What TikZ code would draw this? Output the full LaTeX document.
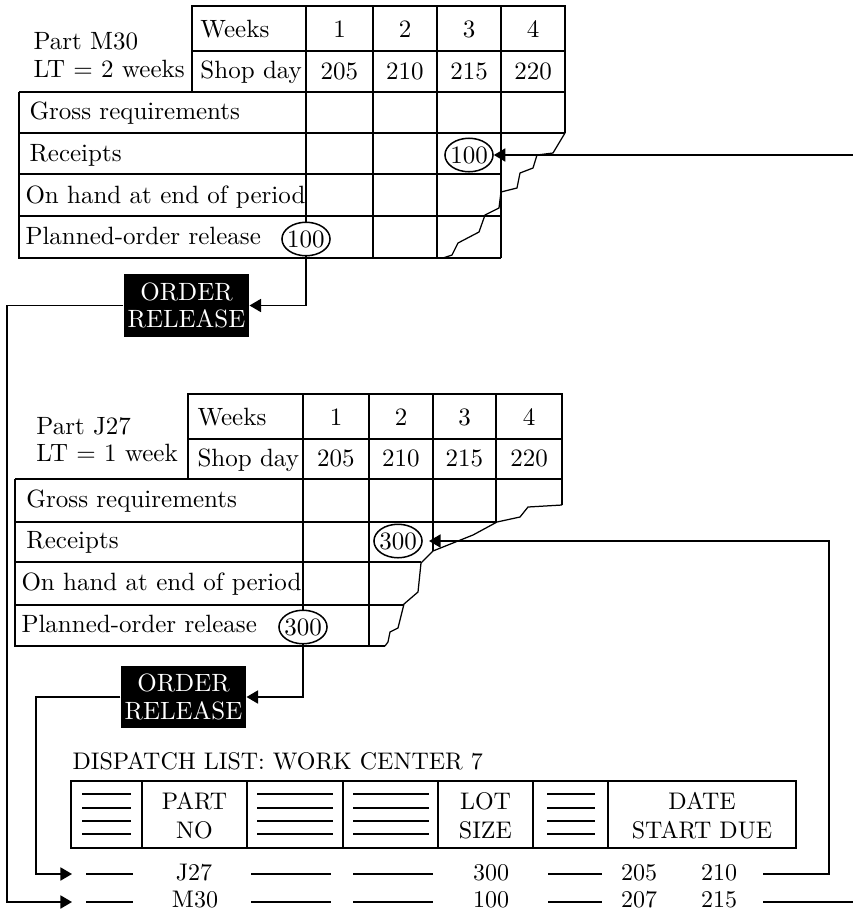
\documentclass[tikz,border=0pt]{standalone}
\usetikzlibrary{arrows.meta,shapes.geometric}
\begin{document}
\begin{tikzpicture}[x=0.4pt,y=-0.4pt,
  grid/.style={line width=0.8pt},
  tear/.style={line width=0.5pt,line join=round},
  conn/.style={line width=0.7pt},
  arr/.style={conn,-{Triangle[length=4.6pt,width=5.2pt]}},
  lbl/.style={anchor=base west,inner sep=0pt,font=\fontsize{10}{12}\selectfont},
  num/.style={anchor=base,inner sep=0pt,font=\fontsize{10}{12}\selectfont},
  circled/.style={ellipse,draw,fill=white,line width=0.6pt,inner xsep=-0.7pt,inner ysep=1.3pt,font=\fontsize{10}{12}\selectfont},
  relbox/.style={fill=black,text=white,align=center,inner sep=0pt,minimum width=50pt,minimum height=25pt,font=\fontsize{10}{11}\selectfont},
  dtext/.style={anchor=base,inner sep=0pt,font=\fontsize{9.6}{11.5}\selectfont},
  dbox/.style={line width=1.1pt},
  blankline/.style={line width=0.7pt},
  ]
\useasboundingbox (0,0) rectangle (853,909);

% ================= Part M30 table =================
\draw[grid] (192,92) -- (192,6) -- (565,6) -- (565,133);
\draw[grid] (192,51) -- (565,51);
\draw[grid] (19,92) -- (565,92);
\draw[grid] (19,133) -- (565,133);
\draw[grid] (19,174) -- (501,174);
\draw[grid] (19,216) -- (501,216);
\draw[grid] (19,92) -- (19,258) -- (501,258);
\foreach \x in {306,373,437,501} \draw[grid] (\x,6) -- (\x,258);
\draw[tear] (565,133) -- (553,153) -- (537,155) -- (533,168) -- (520,173) -- (517,188) -- (501,192) -- (499,208) -- (485,215) -- (479,232) -- (458,243) -- (452,255) -- (443,258);

\node[lbl] (m30part) at (33,49) {Part M30};
\node[lbl] (m30lt) at (33,77) {LT = 2 weeks};
\node[lbl] (m30wk) at (200,37) {Weeks};
\node[lbl] (m30sd) at (200,78) {Shop day};
\node[num] (m30w1) at (339.5,37) {1};
\node[num] (m30w2) at (405,37) {2};
\node[num] (m30w3) at (469,37) {3};
\node[num] (m30w4) at (533,37) {4};
\node[num] (m30d1) at (339.5,79) {205};
\node[num] (m30d2) at (405,79) {210};
\node[num] (m30d3) at (469,79) {215};
\node[num] (m30d4) at (533,79) {220};
\node[lbl] (m30gr) at (29,119) {Gross requirements};
\node[lbl] (m30rc) at (29,161) {Receipts};
\node[lbl] (m30oh) at (25,203) {On hand at end of period};
\node[lbl] (m30po) at (25,244) {Planned-order release};
\node[circled] (m30rec) at (469,155) {100};
\node[circled] (m30rel) at (306,239) {100};
\node[relbox] (or1) at (186.5,305.5) {ORDER\\RELEASE};

% ================= Part J27 table =================
\draw[grid] (188,479) -- (188,394) -- (562,394) -- (562,505);
\draw[grid] (188,439) -- (562,439);
\draw[grid] (15,479) -- (562,479);
\draw[grid] (15,522) -- (497,522);
\draw[grid] (15,562) -- (421,562);
\draw[grid] (15,605) -- (404,605);
\draw[grid] (15,479) -- (15,646) -- (385,646);
\draw[grid] (303,394) -- (303,646);
\draw[grid] (369,394) -- (369,646);
\draw[grid] (433,394) -- (433,551);
\draw[grid] (496,394) -- (496,522);
\draw[tear] (562,505) -- (528,507) -- (520,517) -- (497,522) -- (473,535) -- (433,551) -- (421,563) -- (418,592) -- (404,604) -- (398,628) -- (390,632) -- (388,642) -- (385,646);

\node[lbl] (j27part) at (36,434) {Part J27};
\node[lbl] (j27lt) at (36,461) {LT = 1 week};
\node[lbl] (j27wk) at (197,425) {Weeks};
\node[lbl] (j27sd) at (197,466) {Shop day};
\node[num] (j27w1) at (336,425) {1};
\node[num] (j27w2) at (401,425) {2};
\node[num] (j27w3) at (464.5,425) {3};
\node[num] (j27w4) at (529,425) {4};
\node[num] (j27d1) at (336,466) {205};
\node[num] (j27d2) at (401,466) {210};
\node[num] (j27d3) at (464.5,466) {215};
\node[num] (j27d4) at (529,466) {220};
\node[lbl] (j27gr) at (26,507) {Gross requirements};
\node[lbl] (j27rc) at (26,548) {Receipts};
\node[lbl] (j27oh) at (21,590) {On hand at end of period};
\node[lbl] (j27po) at (21,632) {Planned-order release};
\node[circled] (j27rec) at (398,541) {300};
\node[circled] (j27rel) at (303,627) {300};
\node[relbox] (or2) at (183.5,697) {ORDER\\RELEASE};

% ================= Dispatch list =================
\node[anchor=base west,inner sep=0pt,font=\fontsize{9.6}{11.5}\selectfont] (dtitle) at (72,769) {DISPATCH LIST: WORK CENTER 7};
\draw[dbox] (71,781) rectangle (796,848);
\foreach \x in {142,247,343,438,533,608} \draw[dbox] (\x,781) -- (\x,848);
\foreach \y in {794,808,821,834} {
  \draw[blankline] (82,\y) -- (131,\y);
  \draw[blankline] (257,\y) -- (333,\y);
  \draw[blankline] (353,\y) -- (429,\y);
  \draw[blankline] (547,\y) -- (595,\y);
}
\node[dtext] (hpart) at (194.5,809) {PART};
\node[dtext] (hno) at (194.5,838) {NO};
\node[dtext] (hlot) at (485.5,809) {LOT};
\node[dtext] (hsize) at (485.5,838) {SIZE};
\node[dtext] (hdate) at (702,809) {DATE};
\node[dtext] (hsd) at (702,838) {START DUE};

\foreach \y in {874,902} {
  \draw[blankline] (86,\y) -- (133,\y);
  \draw[blankline] (251,\y) -- (331,\y);
  \draw[blankline] (353,\y) -- (433,\y);
  \draw[blankline] (548,\y) -- (602,\y);
}
\node[dtext] (rj27) at (194,880) {J27};
\node[dtext] (rj27lot) at (491,880) {300};
\node[dtext] (rj27st) at (639,880) {205};
\node[dtext] (rj27du) at (719,880) {210};
\node[dtext] (rm30) at (195,907.5) {M30};
\node[dtext] (rm30lot) at (491,907.5) {100};
\node[dtext] (rm30st) at (639,907.5) {207};
\node[dtext] (rm30du) at (719,907.5) {215};

% ================= Connectors =================
\coordinate (m30edge) at (853,155);
\draw[arr] (m30edge) -- (m30rec.east);
\draw[arr] (m30rel.south) |- (or1.east);
\coordinate (m30down) at (7,902);
\coordinate (m30in) at (72,902);
\draw[arr] (or1.west) -| (m30down) -- (m30in);
\coordinate (m30out) at (763,902);
\coordinate (m30edge2) at (853,902);
\draw[conn] (m30out) -- (m30edge2);

\draw[arr] (j27rel.south) |- (or2.east);
\coordinate (j27down) at (36,874);
\coordinate (j27in) at (72,874);
\draw[arr] (or2.west) -| (j27down) -- (j27in);
\coordinate (j27out) at (763,874);
\coordinate (j27corner) at (829,874);
\draw[arr,shorten >=2.5pt] (j27out) -- (j27corner) |- (j27rec.east);
\end{tikzpicture}
\end{document}
